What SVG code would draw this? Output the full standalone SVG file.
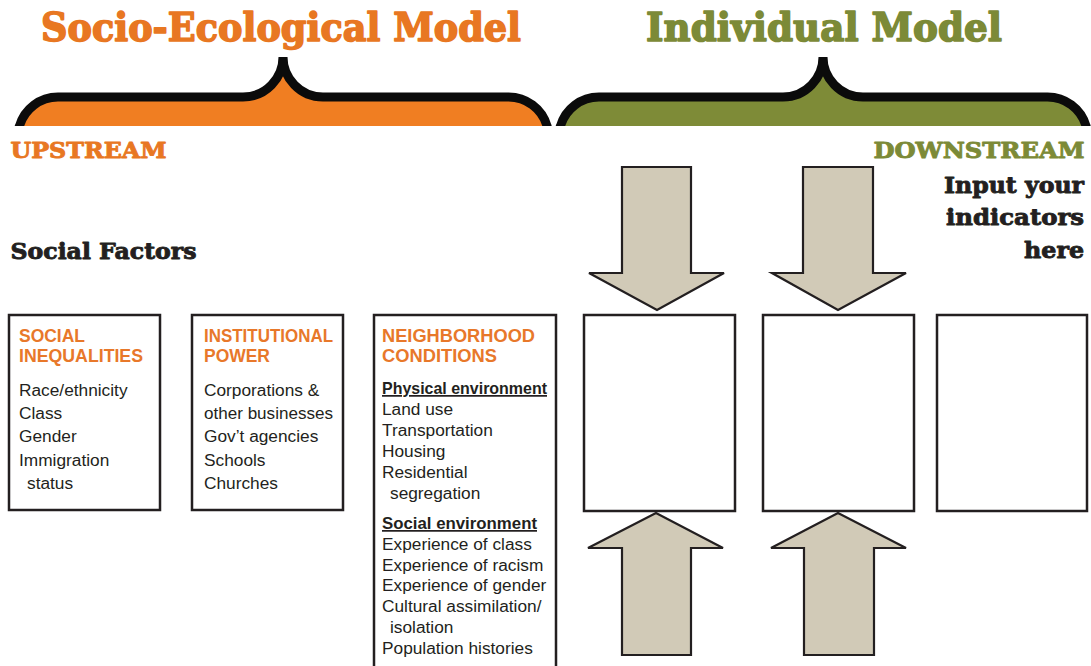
<svg xmlns="http://www.w3.org/2000/svg" width="1091" height="666" viewBox="0 0 1091 666">
<style>
.title{font-family:"DejaVu Serif","Liberation Serif",serif;font-weight:bold}
.big{stroke-width:1.6;stroke-linejoin:round}
.mid{stroke-width:0.9;stroke-linejoin:round}
.head{font-family:"Liberation Sans",Arial,sans-serif;font-weight:bold;font-size:18px;fill:#E8782A}
.body{font-family:"Liberation Sans",Arial,sans-serif;font-size:17.3px;fill:#231F20}
.sub{font-family:"Liberation Sans",Arial,sans-serif;font-size:17.3px;font-weight:bold;fill:#231F20;text-decoration:underline}
.box{fill:#fff;stroke:#231F20;stroke-width:2.5}
.arrow{fill:#D1CAB7;stroke:#231F20;stroke-width:2.2;stroke-linejoin:miter}
.brace{fill:none;stroke:#0B0B0B;stroke-width:9;stroke-linecap:round}
</style>
<defs>
<clipPath id="clipTop"><rect x="0" y="0" width="1091" height="126"/></clipPath>
</defs>
<rect width="1091" height="666" fill="#fff"/>

<g id="socio-ecological-model">
<text class="title big" x="41" y="41" font-size="39" fill="#E87722" stroke="#E87722" textLength="480" lengthAdjust="spacingAndGlyphs">Socio-Ecological Model</text>
<g clip-path="url(#clipTop)">
<path d="M19 130 L19.5 126 A40 40 0 0 1 58 97 L243 97 C266 97 283 78 283 57 C283 78 300 97 323 97 L508 97 A40 40 0 0 1 547 126 L548 130 Z" fill="#F07E22"/>
<path class="brace" d="M17 132 L19.5 126 A40 40 0 0 1 58 97 L243 97 C266 97 283 78 283 57 C283 78 300 97 323 97 L508 97 A40 40 0 0 1 547 126 L549 132"/>
</g>
</g>

<g id="individual-model">
<text class="title big" x="646" y="41" font-size="39" fill="#7C8A37" stroke="#7C8A37" textLength="356" lengthAdjust="spacingAndGlyphs">Individual Model</text>
<g clip-path="url(#clipTop)">
<path d="M560 130 L560.5 126 A40 40 0 0 1 599 97 L783 97 C806 97 823 78 823 57 C823 78 840 97 863 97 L1047 97 A40 40 0 0 1 1086 126 L1087 130 Z" fill="#7E8B37"/>
<path class="brace" d="M558 132 L560.5 126 A40 40 0 0 1 599 97 L783 97 C806 97 823 78 823 57 C823 78 840 97 863 97 L1047 97 A40 40 0 0 1 1086 126 L1088 132"/>
</g>
</g>

<g id="labels">
<text class="title mid" x="10.5" y="158" font-size="22" fill="#E87722" stroke="#E87722" textLength="156" lengthAdjust="spacingAndGlyphs">UPSTREAM</text>
<text class="title mid" x="873.5" y="158" font-size="22" fill="#7C8A37" stroke="#7C8A37" textLength="211" lengthAdjust="spacingAndGlyphs">DOWNSTREAM</text>
<text class="title mid" x="10.5" y="259" font-size="23" fill="#231F20" stroke="#231F20" textLength="186" lengthAdjust="spacingAndGlyphs">Social Factors</text>
<text class="title mid" x="1084" y="193" font-size="23" fill="#231F20" stroke="#231F20" text-anchor="end" textLength="140" lengthAdjust="spacingAndGlyphs">Input your</text>
<text class="title mid" x="1084" y="225" font-size="23" fill="#231F20" stroke="#231F20" text-anchor="end" textLength="138" lengthAdjust="spacingAndGlyphs">indicators</text>
<text class="title mid" x="1084" y="258" font-size="23" fill="#231F20" stroke="#231F20" text-anchor="end" textLength="60" lengthAdjust="spacingAndGlyphs">here</text>
</g>

<g id="social-inequalities">
<rect class="box" x="9" y="315" width="151" height="195"/>
<text class="head" x="19" y="342" textLength="66" lengthAdjust="spacingAndGlyphs">SOCIAL</text>
<text class="head" x="19" y="362" textLength="124" lengthAdjust="spacingAndGlyphs">INEQUALITIES</text>
<text class="body" x="19" y="396">Race/ethnicity</text>
<text class="body" x="19" y="419">Class</text>
<text class="body" x="19" y="442">Gender</text>
<text class="body" x="19" y="466">Immigration</text>
<text class="body" x="27" y="489">status</text>
</g>

<g id="institutional-power">
<rect class="box" x="192" y="315" width="151" height="195"/>
<text class="head" x="204" y="342" textLength="129" lengthAdjust="spacingAndGlyphs">INSTITUTIONAL</text>
<text class="head" x="204" y="362" textLength="66" lengthAdjust="spacingAndGlyphs">POWER</text>
<text class="body" x="204" y="396">Corporations &amp;</text>
<text class="body" x="204" y="419" textLength="129" lengthAdjust="spacingAndGlyphs">other businesses</text>
<text class="body" x="204" y="442">Gov’t agencies</text>
<text class="body" x="204" y="466">Schools</text>
<text class="body" x="204" y="489">Churches</text>
</g>

<g id="neighborhood-conditions">
<path class="box" d="M374 680 L374 315 L556 315 L556 680"/>
<text class="head" x="382" y="342" textLength="153" lengthAdjust="spacingAndGlyphs">NEIGHBORHOOD</text>
<text class="head" x="382" y="362" textLength="115" lengthAdjust="spacingAndGlyphs">CONDITIONS</text>
<text class="sub" x="382" y="394" textLength="165" lengthAdjust="spacingAndGlyphs">Physical environment</text>
<text class="body" x="382" y="415">Land use</text>
<text class="body" x="382" y="436">Transportation</text>
<text class="body" x="382" y="457">Housing</text>
<text class="body" x="382" y="478">Residential</text>
<text class="body" x="390" y="499">segregation</text>
<text class="sub" x="382" y="529" textLength="155" lengthAdjust="spacingAndGlyphs">Social environment</text>
<text class="body" x="382" y="550">Experience of class</text>
<text class="body" x="382" y="571">Experience of racism</text>
<text class="body" x="382" y="591">Experience of gender</text>
<text class="body" x="382" y="612">Cultural assimilation/</text>
<text class="body" x="390" y="633">isolation</text>
<text class="body" x="382" y="654">Population histories</text>
</g>

<g id="indicator-1"><rect class="box" x="584" y="315" width="151" height="196"/></g>
<g id="indicator-2"><rect class="box" x="763" y="315" width="151" height="196"/></g>
<g id="indicator-3"><rect class="box" x="937" y="315" width="150" height="196"/></g>

<g id="connectors">
<polygon class="arrow" points="622,167 691,167 691,273 724,273 657,310 589,273 622,273"/>
<polygon class="arrow" points="803,167 873,167 873,273 906,273 838,310 772,273 803,273"/>
<polygon class="arrow" points="622,655 691,655 691,548 723,548 656,513 588,548 622,548"/>
<polygon class="arrow" points="804,655 874,655 874,548 906,548 838,513 771,548 804,548"/>
</g>
</svg>
